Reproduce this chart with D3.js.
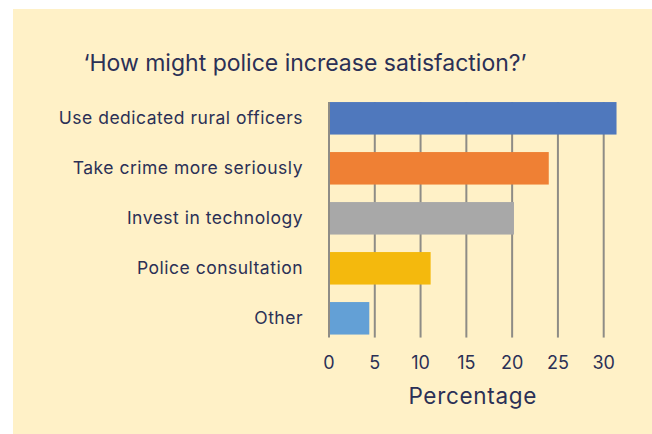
<!DOCTYPE html>
<html lang="en">
<head>
<meta charset="utf-8">
<title>How might police increase satisfaction?</title>
<script src="https://cdn.jsdelivr.net/npm/d3@7"></script>
<style>
  body { margin: 0; background: #fff; }
  text { font-family: Inter, "Open Sans", sans-serif; fill: #2b3056; }
</style>
</head>
<body>
<script>
var w = 652, h = 434;

var categories = ["Use dedicated rural officers", "Take crime more seriously", "Invest in technology", "Police consultation", "Other"];
var values = [31.4, 24.0, 20.2, 11.1, 4.4];
var colors = ["#4f78bd", "#ef8034", "#a8a8a8", "#f4b90d", "#63a0d6"];
var tickValues = [0, 5, 10, 15, 20, 25, 30];

var data = categories.map(function(c, i) {
  return { name: c, value: values[i], color: colors[i] };
});

var svg = d3.select("body").append("svg")
  .attr("width", w)
  .attr("height", h);

// cream panel
svg.append("rect")
  .attr("x", 13).attr("y", 9)
  .attr("width", w - 13).attr("height", h - 9)
  .attr("fill", "#fff1c7");

var xScale = d3.scaleLinear().domain([0, 30]).range([329, 603.7]);
var yScale = d3.scaleBand().domain(categories).range([93.3, 343.3])
  .paddingInner(0.35).paddingOuter(0.175);

var gridTop = yScale(categories[0]);
var gridBottom = yScale(categories[categories.length - 1]) + yScale.bandwidth() + 3;

// gridlines
svg.selectAll("line.grid")
  .data(tickValues)
  .enter()
  .append("line")
  .attr("class", "grid")
  .attr("x1", function(d) { return xScale(d); })
  .attr("x2", function(d) { return xScale(d); })
  .attr("y1", gridTop)
  .attr("y2", gridBottom)
  .attr("stroke", "#8e8c86")
  .attr("stroke-width", 2);

// bars
svg.selectAll("rect.bar")
  .data(data)
  .enter()
  .append("rect")
  .attr("class", "bar")
  .attr("x", xScale(0) + 1)
  .attr("y", function(d) { return yScale(d.name); })
  .attr("width", function(d) { return xScale(d.value) - xScale(0) - 1; })
  .attr("height", yScale.bandwidth())
  .attr("fill", function(d) { return d.color; });

// category labels
svg.selectAll("text.cat")
  .data(data)
  .enter()
  .append("text")
  .attr("class", "cat")
  .attr("x", 303)
  .attr("y", function(d) { return yScale(d.name) + yScale.bandwidth() / 2; })
  .attr("dy", "0.35em")
  .attr("text-anchor", "end")
  .attr("font-size", "17.5px")
  .attr("letter-spacing", "0.5px")
  .text(function(d) { return d.name; });

// tick labels
svg.selectAll("text.tick")
  .data(tickValues)
  .enter()
  .append("text")
  .attr("class", "tick")
  .attr("x", function(d) { return xScale(d); })
  .attr("y", 362.7)
  .attr("dy", "0.35em")
  .attr("text-anchor", "middle")
  .attr("font-size", "18px")
  .text(function(d) { return d; });

// axis title
svg.append("text")
  .attr("x", (xScale(0) + xScale(d3.max(values))) / 2)
  .attr("y", 404)
  .attr("text-anchor", "middle")
  .attr("font-size", "22.5px")
  .attr("letter-spacing", "0.7px")
  .text("Percentage");

// chart title
svg.append("text")
  .attr("x", 305)
  .attr("y", 71)
  .attr("text-anchor", "middle")
  .attr("font-size", "23px")
  .text("\u2018How might police increase satisfaction?\u2019");
</script>
</body>
</html>
